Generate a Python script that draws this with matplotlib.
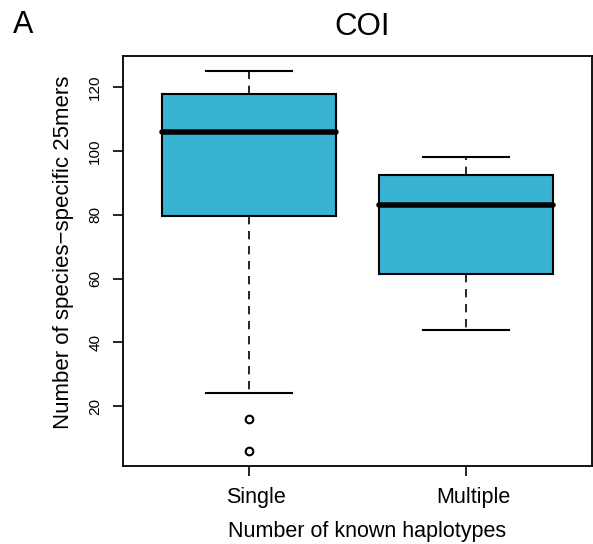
import matplotlib
matplotlib.use("Agg")
import matplotlib.pyplot as plt
from matplotlib.transforms import ScaledTranslation

plt.rcParams['font.family'] = ['Liberation Sans', 'DejaVu Sans']

# box statistics
groups = ['Single', 'Multiple']
whislo = [24, 44]
q1 = [79.5, 61.5]
med = [106, 83]
q3 = [118, 92.5]
whishi = [125, 98]
fliers = [[16, 6], []]

box_color = '#38B3D3'

stats = []
for i, g in enumerate(groups):
    stats.append({'label': g, 'whislo': whislo[i], 'q1': q1[i], 'med': med[i],
                  'q3': q3[i], 'whishi': whishi[i], 'fliers': fliers[i]})

fig = plt.figure(figsize=(5.93, 5.44), dpi=100)
ax = fig.add_axes([123 / 593, 1 - 466 / 544, 469 / 593, 410 / 544])

ax.bxp(stats, positions=[1, 2], widths=0.8, patch_artist=True,
       boxprops=dict(facecolor=box_color, edgecolor='black', linewidth=1.5),
       medianprops=dict(color='black', linewidth=4, solid_capstyle='round'),
       whiskerprops=dict(color='black', linewidth=1.2, linestyle=(0, (5, 4))),
       capprops=dict(color='black', linewidth=1.5),
       capwidths=0.4,
       flierprops=dict(marker='o', markerfacecolor='white', markeredgecolor='black',
                       markersize=5.5, markeredgewidth=1.5))

allvals = whislo + whishi + [v for f in fliers for v in f]
lo, hi = min(allvals), max(allvals)
pad = (hi - lo) * 0.04
ax.set_ylim(lo - pad, hi + pad)
ax.set_xlim(0.5 - 0.08, 2.5 + 0.08)

ax.set_yticks([20, 40, 60, 80, 100, 120])
ax.set_yticklabels(['20', '40', '60', '80', '100', '120'], rotation=90, va='center', fontsize=11)
ax.set_xticks([1, 2])
ax.set_xticklabels(groups, fontsize=15.5)
ax.tick_params(axis='both', length=7, width=1.2, direction='out')
ax.tick_params(axis='x', pad=8)
ax.tick_params(axis='y', pad=8)
for s in ax.spines.values():
    s.set_linewidth(1.3)

# text in the original sits a few pixels along its reading direction
shift_x = ScaledTranslation(0.07, 0, fig.dpi_scale_trans)
for lbl in ax.get_xticklabels():
    lbl.set_transform(lbl.get_transform() + shift_x)

ax.set_xlabel('Number of known haplotypes', fontsize=15.5)
ax.xaxis.set_label_coords(0.52, -0.135)
ax.set_ylabel('Number of species\u2212specific 25mers', fontsize=16)
ax.yaxis.set_label_coords(-0.105, 0.52)
ax.set_title('COI', fontsize=22.5, pad=15, x=0.51)
fig.text(13 / 593, 1 - 33 / 544, 'A', fontsize=22)

fig.savefig('out.png', dpi=100)
